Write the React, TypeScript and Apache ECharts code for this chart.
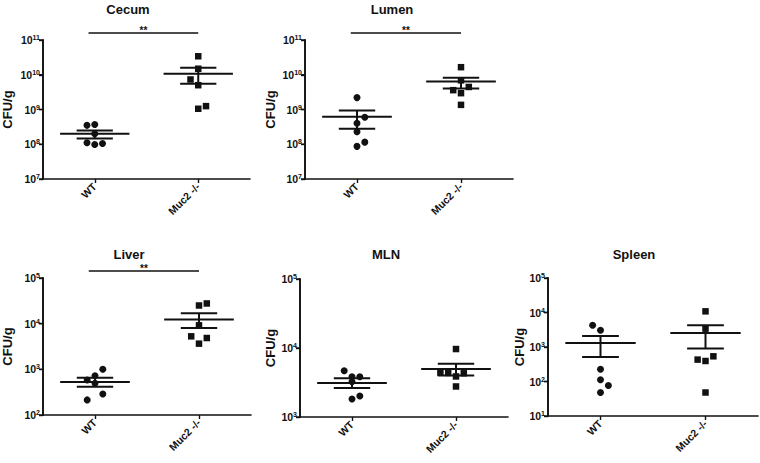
import React, { useEffect, useRef } from "react";
import * as echarts from "echarts";

const categories = ["WT", "Muc2 -/-"];
const panelTitles = ["Cecum", "Lumen", "Liver", "MLN", "Spleen"];
const yMinExp = [7, 7, 2, 3, 1];
const yMaxExp = [11, 11, 5, 5, 5];
const showSignificance = [true, true, true, false, false];
const significanceLabel = "**";

// Individual animals (CFU/g)
const cecumWT = [3.5e8, 3.7e8, 2.0e8, 1.1e8, 0.98e8, 1.05e8];
const cecumWTCols = [-1, 0, 0, -1, 0, 1];
const cecumKO = [3.4e10, 1.49e10, 7.3e9, 5.0e9, 1.05e9, 1.25e9];
const cecumKOCols = [0, 0, -1, 0, 0, 1];

const lumenWT = [2.2e9, 6.0e8, 4.0e8, 2.3e8, 1.15e8, 0.87e8];
const lumenWTCols = [0, 1, 0, 0, 1, 0];
const lumenKO = [1.65e10, 6.9e9, 3.6e9, 4.45e9, 2.95e9, 1.36e9];
const lumenKOCols = [0, 0, -1, 1, 0, 0];

const liverWT = [1000, 725, 583, 494, 289, 214];
const liverWTCols = [1, 0, -1, 0, 1, -1];
const liverKO = [25000, 27700, 9200, 5280, 4850, 3650];
const liverKOCols = [0, 1, 0, -1, 1, 0];

const mlnWT = [4690, 3840, 3840, 3250, 2010, 1820];
const mlnWTCols = [-1, 0, 1, 0, 1, 0];
const mlnKO = [9660, 4400, 4350, 4300, 3870, 2770];
const mlnKOCols = [0, -2, -1, 1, 0, 0];

const spleenWT = [4260, 3050, 226, 113, 77, 48];
const spleenWTCols = [-1, 0, 0, 0, 1, 0];
const spleenKO = [10800, 3410, 537, 431, 393, 48];
const spleenKOCols = [0, 0, 1, -1, 0, 0];

// mean, lower SEM, upper SEM (WT, Muc2 -/-)
const cecumStats = [[2.0e8, 1.46e8, 2.5e8], [1.07e10, 5.5e9, 1.59e10]];
const lumenStats = [[6.2e8, 2.8e8, 9.3e8], [6.4e9, 4.0e9, 8.2e9]];
const liverStats = [[528, 418, 656], [12400, 8000, 17000]];
const mlnStats = [[3110, 2630, 3630], [4970, 3980, 5920]];
const spleenStats = [[1305, 513, 2080], [2550, 900, 4260]];

const wtValues = [cecumWT, lumenWT, liverWT, mlnWT, spleenWT];
const wtCols = [cecumWTCols, lumenWTCols, liverWTCols, mlnWTCols, spleenWTCols];
const koValues = [cecumKO, lumenKO, liverKO, mlnKO, spleenKO];
const koCols = [cecumKOCols, lumenKOCols, liverKOCols, mlnKOCols, spleenKOCols];
const statsAll = [cecumStats, lumenStats, liverStats, mlnStats, spleenStats];

// layout
const grids = [
  { left: 41, top: 40, width: 209, height: 139 },
  { left: 305, top: 40, width: 208, height: 139 },
  { left: 42, top: 278, width: 209, height: 137 },
  { left: 300, top: 279, width: 208, height: 138 },
  { left: 548, top: 278, width: 210, height: 138 },
];
const titlePos = [
  [128, 3],
  [392, 3],
  [129, 248],
  [386, 248],
  [634, 248],
];
const nameGaps = [29, 28, 29, 23, 22];

const FONT = "'Liberation Sans', Arial, sans-serif";
const INK = "#111";
const COL_STEP = 0.075;
const MEAN_HALF = 0.335;
const SEM_HALF = 0.175;
const TICK_LEN = 4;

// category c sits at the centre of band [c, c+1] on a 0..2 value axis
const catPos = (c: number) => c + 0.5;

export default function App() {
  const ref = useRef<HTMLDivElement>(null);
  useEffect(() => {
    if (!ref.current) return;
    const chart = echarts.init(ref.current, undefined, { renderer: "svg" });

    const xAxes: any[] = [];
    const yAxes: any[] = [];
    const series: any[] = [];
    const titles: any[] = [];
    const catTicks = categories.map((_, c) => catPos(c));

    grids.forEach((g, i) => {
      titles.push({
        text: panelTitles[i],
        left: titlePos[i][0],
        top: titlePos[i][1],
        textAlign: "center",
        padding: 0,
        textStyle: { fontFamily: FONT, fontWeight: "bold", fontSize: 13, color: INK },
      });
      xAxes.push({
        type: "value",
        gridIndex: i,
        min: 0,
        max: categories.length,
        interval: 0.5,
        axisLine: { show: true, lineStyle: { color: INK, width: 1.6 } },
        axisTick: {
          show: true,
          customValues: catTicks,
          length: TICK_LEN,
          lineStyle: { color: INK, width: 1.4 },
        },
        axisLabel: {
          customValues: catTicks,
          formatter: (v: number) => categories[Math.floor(v)] ?? "",
          rotate: 45,
          margin: 6,
          color: INK,
          fontFamily: FONT,
          fontWeight: "bold",
          fontSize: 10.5,
        },
        splitLine: { show: false },
      });
      yAxes.push({
        type: "log",
        logBase: 10,
        gridIndex: i,
        z: 10,
        min: Math.pow(10, yMinExp[i]),
        max: Math.pow(10, yMaxExp[i]),
        name: "CFU/g",
        nameLocation: "middle",
        nameGap: nameGaps[i],
        nameTextStyle: { fontFamily: FONT, fontWeight: "bold", fontSize: 13, color: INK },
        axisLine: { show: true, lineStyle: { color: INK, width: 1.6 } },
        axisTick: { show: true, length: TICK_LEN, lineStyle: { color: INK, width: 1.4 } },
        splitLine: { show: false },
        axisLabel: {
          margin: 3,
          color: INK,
          formatter: (v: number) => `{b|10}{s|${Math.round(Math.log10(v))}}`,
          rich: {
            b: { fontFamily: FONT, fontWeight: "bold", fontSize: 10.5, lineHeight: 12, color: INK },
            s: {
              fontFamily: FONT,
              fontWeight: "bold",
              fontSize: 7,
              lineHeight: 7,
              verticalAlign: "top",
              color: INK,
            },
          },
        },
      });

      const pts = (vals: number[], cols: number[], c: number) =>
        vals.map((v, k) => [catPos(c) + cols[k] * COL_STEP, v]);

      series.push({
        type: "scatter",
        xAxisIndex: i,
        yAxisIndex: i,
        symbol: "circle",
        symbolSize: 7,
        itemStyle: { color: INK, opacity: 1 },
        data: pts(wtValues[i], wtCols[i], 0),
        z: 3,
      });
      series.push({
        type: "scatter",
        xAxisIndex: i,
        yAxisIndex: i,
        symbol: "rect",
        symbolSize: 6.5,
        itemStyle: { color: INK, opacity: 1 },
        data: pts(koValues[i], koCols[i], 1),
        z: 3,
      });
      series.push({
        type: "custom",
        xAxisIndex: i,
        yAxisIndex: i,
        clip: false,
        z: 4,
        data: statsAll[i].map((s, c) => [catPos(c), s[0], s[1], s[2]]),
        encode: { x: 0, y: [1, 2, 3] },
        renderItem: (params: any, api: any) => {
          const x = api.value(0);
          const m = api.value(1);
          const lo = api.value(2);
          const hi = api.value(3);
          const pm = api.coord([x, m]);
          const pl = api.coord([x, lo]);
          const ph = api.coord([x, hi]);
          const ml = api.coord([x - MEAN_HALF, m])[0];
          const mr = api.coord([x + MEAN_HALF, m])[0];
          const sl = api.coord([x - SEM_HALF, m])[0];
          const sr = api.coord([x + SEM_HALF, m])[0];
          const st = { stroke: INK, lineWidth: 2 };
          return {
            type: "group",
            children: [
              { type: "line", shape: { x1: ml, y1: pm[1], x2: mr, y2: pm[1] }, style: st },
              { type: "line", shape: { x1: sl, y1: ph[1], x2: sr, y2: ph[1] }, style: st },
              { type: "line", shape: { x1: sl, y1: pl[1], x2: sr, y2: pl[1] }, style: st },
              { type: "line", shape: { x1: pm[0], y1: ph[1], x2: pm[0], y2: pl[1] }, style: st },
            ],
          };
        },
      });
      if (showSignificance[i]) {
        series.push({
          type: "custom",
          xAxisIndex: i,
          yAxisIndex: i,
          clip: false,
          z: 4,
          data: [[catPos(0) - 0.06, Math.pow(10, yMaxExp[i]), catPos(1)]],
          encode: { x: [0, 2], y: 1 },
          renderItem: (params: any, api: any) => {
            const a = api.coord([api.value(0), api.value(1)]);
            const b = api.coord([api.value(2), api.value(1)]);
            const y = params.coordSys.y - 7;
            return {
              type: "group",
              children: [
                { type: "line", shape: { x1: a[0], y1: y, x2: b[0], y2: y }, style: { stroke: INK, lineWidth: 1.4 } },
                {
                  type: "text",
                  x: (a[0] + b[0]) / 2,
                  y: y + 2,
                  style: {
                    text: significanceLabel,
                    fill: INK,
                    font: `bold 10px ${FONT}`,
                    textAlign: "center",
                    textVerticalAlign: "bottom",
                  },
                },
              ],
            };
          },
        });
      }
    });

    chart.setOption({
      animation: false,
      backgroundColor: "#fff",
      title: titles,
      grid: grids.map((g) => ({ ...g })),
      xAxis: xAxes,
      yAxis: yAxes,
      series,
    });

    // y-axis spine and decade ticks as filled rects, placed through the library's pixel mapping
    const spines: any[] = [];
    grids.forEach((g, i) => {
      const finder = { xAxisIndex: i, yAxisIndex: i };
      const lo = chart.convertToPixel(finder, [0, Math.pow(10, yMinExp[i])]) as number[];
      const hi = chart.convertToPixel(finder, [0, Math.pow(10, yMaxExp[i])]) as number[];
      if (!lo || !hi) return;
      spines.push({
        type: "rect",
        z: 100,
        silent: true,
        shape: { x: lo[0] - 0.8, y: hi[1] - 0.8, width: 1.6, height: lo[1] - hi[1] + 1.6 },
        style: { fill: INK },
      });
      for (let e = yMinExp[i]; e <= yMaxExp[i]; e++) {
        const p = chart.convertToPixel(finder, [0, Math.pow(10, e)]) as number[];
        spines.push({
          type: "rect",
          z: 100,
          silent: true,
          shape: { x: p[0] - TICK_LEN, y: p[1] - 0.7, width: TICK_LEN, height: 1.4 },
          style: { fill: INK },
        });
      }
    });
    chart.setOption({ graphic: spines });

    return () => chart.dispose();
  }, []);
  return (
    <div
      ref={ref}
      style={{ position: "absolute", left: 0, top: 0, width: 760, height: 463 }}
    />
  );
}
